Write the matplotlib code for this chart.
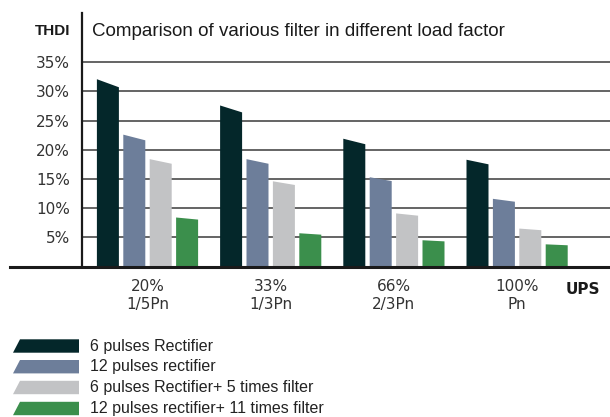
import numpy as np
import matplotlib
matplotlib.use("Agg")
import matplotlib.pyplot as plt
from matplotlib.patches import Polygon

# data (THDI %, read at the high left corner of each bar)
groups = ["20%\n1/5Pn", "33%\n1/3Pn", "66%\n2/3Pn", "100%\nPn"]
series = ["6 pulses Rectifier",
          "12 pulses rectifier",
          "6 pulses Rectifier+ 5 times filter",
          "12 pulses rectifier+ 11 times filter"]
pulse6 = [32.1, 27.6, 21.9, 18.3]
pulse12 = [22.6, 18.4, 15.3, 11.6]
pulse6_f5 = [18.4, 14.6, 9.1, 6.5]
pulse12_f11 = [8.4, 5.7, 4.5, 3.8]
yticks = [5, 10, 15, 20, 25, 30, 35]

colors = ["#04272a", "#6d7e9a", "#c2c3c5", "#3b8f4c"]
values = [pulse6, pulse12, pulse6_f5, pulse12_f11]

W, H = 610, 417
fig = plt.figure(figsize=(W / 100, H / 100), dpi=100)

def fx(x):
    return x / W

def fy(y):
    return 1 - y / H

# axes box in pixels: x 82..610, y 12.7..266.5
ax = fig.add_axes([fx(82), fy(266.5), fx(610 - 82), (266.5 - 12.7) / H])
step = 123.2
ax.set_xlim((82 - 147.5) / step, (610 - 147.5) / step)
ax.set_ylim(0, 43.5)

bw = 22 / step
off = 26.4 / step
slant = 0.957
for k, (vals, c) in enumerate(zip(values, colors)):
    for i, v in enumerate(vals):
        xc = i + (k - 1.5) * off
        pts = [(xc - bw / 2, 0), (xc - bw / 2, v), (xc + bw / 2, v * slant), (xc + bw / 2, 0)]
        ax.add_patch(Polygon(pts, closed=True, facecolor=c, edgecolor="none", zorder=3))

# grid and axes
for t in yticks:
    ax.axhline(t, color="#4a4a4a", lw=1.2, zorder=1)
ax.axhline(0, xmin=(10 - 82) / (610 - 82), xmax=1, color="#1a1a1a", lw=2.2,
           clip_on=False, zorder=4)
for s in ["top", "right", "bottom"]:
    ax.spines[s].set_visible(False)
ax.spines["left"].set_color("#1a1a1a")
ax.spines["left"].set_linewidth(1.6)

ax.set_yticks(yticks)
ax.set_yticklabels([f"{t}%" for t in yticks], fontsize=11, color="#333333",
                   family="DejaVu Sans")
ax.tick_params(axis="y", length=0, pad=8.5)
ax.set_xticks(range(len(groups)))
ax.set_xticklabels(groups, fontsize=11, color="#333333", family="DejaVu Sans",
                   linespacing=1.25)
ax.tick_params(axis="x", length=0, pad=9)

fig.text(fx(70), fy(31), "THDI", ha="right", va="center", fontsize=11,
         fontweight="bold", family="Liberation Sans", color="#1a1a1a")
fig.text(fx(92), fy(36.5), "Comparison of various filter in different load factor",
         ha="left", va="baseline", fontsize=13.5, family="Liberation Sans", color="#1a1a1a")
fig.text(fx(600), fy(289.5), "UPS", ha="right", va="center", fontsize=11,
         fontweight="bold", family="DejaVu Sans", color="#1a1a1a")

# legend
row_y = [346, 366.7, 387.5, 408.5]
for name, c, yc in zip(series, colors, row_y):
    top, bot = yc - 6.7, yc + 6.7
    pts = [(fx(13), fy(bot)), (fx(20), fy(top)), (fx(79), fy(top)), (fx(79), fy(bot))]
    fig.add_artist(Polygon(pts, closed=True, facecolor=c, edgecolor="none",
                           transform=fig.transFigure))
    fig.text(fx(90), fy(yc), name, ha="left", va="center", fontsize=11.5,
             family="Liberation Sans", color="#222222")

fig.savefig("out.png", dpi=100)
